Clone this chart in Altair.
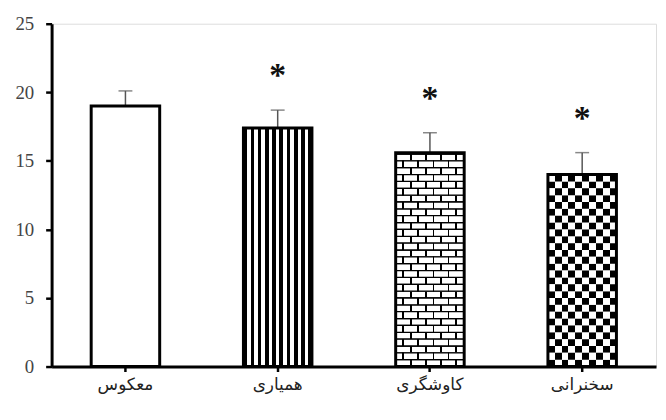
import altair as alt
import pandas as pd

categories = ["معکوس", "همیاری", "کاوشگری", "سخنرانی"]
means = [19.0, 17.4, 15.6, 14.0]
errors = [1.1, 1.3, 1.45, 1.6]
stars = ["", "*", "*", "*"]
patterns = ["none", "stripes", "bricks", "checks"]
y_ticks = [0, 5, 10, 15, 20, 25]

df = pd.DataFrame({"cat": categories, "mean": means, "err": errors, "star": stars, "pattern": patterns})
df["top"] = df["mean"] + df["err"]

# pattern rows (bricks and checkerboard) split into horizontal bands of 0.5 units
rows = []
for c, m, p in zip(categories, means, patterns):
    if p in ("bricks", "checks"):
        i = 0
        while i * 0.5 < m:
            rows.append({"cat": c, "y0": i * 0.5, "y1": min((i + 1) * 0.5, m),
                         "kind": f"{p}{i % 2}"})
            i += 1
rows_df = pd.DataFrame(rows)


def hstops(edges_colors):
    stops = []
    for off0, off1, col in edges_colors:
        stops.append({"offset": off0, "color": col})
        stops.append({"offset": off1, "color": col})
    return stops


def alt_segments(n, first):
    segs = []
    cols = [first, "white" if first == "black" else "black"]
    for k in range(n):
        segs.append((k / n, (k + 1) / n, cols[k % 2]))
    return segs


def line_segments(positions, w):
    segs = []
    prev = 0.0
    for p in positions:
        segs.append((prev, p - w / 2, "white"))
        segs.append((p - w / 2, p + w / 2, "black"))
        prev = p + w / 2
    segs.append((prev, 1.0, "white"))
    return segs


def grad(segs):
    return {"gradient": "linear", "x1": 0, "y1": 0, "x2": 1, "y2": 0, "stops": hstops(segs)}


stripes_grad = grad(alt_segments(19, "black"))
check0 = grad(alt_segments(10, "black"))
check1 = grad(alt_segments(10, "white"))
brick0 = grad(line_segments([0.22, 0.44, 0.66, 0.88], 0.025))
brick1 = grad(line_segments([0.11, 0.33, 0.55, 0.77], 0.025))

x_enc = alt.X("cat:N", sort=categories,
              scale=alt.Scale(domain=categories, paddingInner=0.55, paddingOuter=0.26),
              axis=alt.Axis(title=None, labelAngle=0, labelFont="DejaVu Sans", labelFontSize=17,
                            labelColor="#222", labelPadding=5, tickSize=5, tickWidth=2.5,
                            tickColor="black", domainColor="black", domainWidth=3, grid=False))
y_scale = alt.Scale(domain=[0, 25], nice=False)
y_enc = alt.Y("mean:Q", scale=y_scale,
              axis=alt.Axis(title=None, values=y_ticks, labelFont="Liberation Serif", labelFontSize=19,
                            labelColor="#444", labelPadding=12, tickSize=6, tickWidth=2.5,
                            tickColor="black", domainColor="black", domainWidth=3, grid=False))

base = alt.Chart(df)

white_bars = base.mark_bar(fill="white").encode(x=x_enc, y=y_enc)
stripes = base.transform_filter(alt.datum.pattern == "stripes").mark_bar(fill=stripes_grad).encode(x=x_enc, y=y_enc)

row_layers = []
for kind, g in [("bricks0", brick0), ("bricks1", brick1), ("checks0", check0), ("checks1", check1)]:
    stroke = {"stroke": "black", "strokeWidth": 1.3} if kind.startswith("bricks") else {}
    row_layers.append(
        alt.Chart(rows_df).transform_filter(alt.datum.kind == kind)
        .mark_bar(fill=g, **stroke)
        .encode(x=x_enc, y=alt.Y("y0:Q", scale=y_scale), y2="y1:Q")
    )

err_rule = base.mark_rule(color="#555", strokeWidth=1.5).encode(x=x_enc, y=y_enc, y2="top:Q")
err_cap = base.mark_tick(color="#555", thickness=1.5, size=14, orient="horizontal").encode(
    x=x_enc, y=alt.Y("top:Q", scale=y_scale))
outline = base.mark_bar(fillOpacity=0, stroke="black", strokeWidth=3).encode(x=x_enc, y=y_enc)
star_text = base.mark_text(text="*", fontSize=34, fontWeight="bold", font="Liberation Serif",
                           baseline="alphabetic", dy=-24, color="#111").encode(
    x=x_enc, y=alt.Y("top:Q", scale=y_scale), text="star:N")

chart = alt.layer(white_bars, stripes, *row_layers, err_rule, err_cap, outline, star_text).properties(
    width=610, height=346,
    autosize=alt.AutoSizeParams(type="none"),
    padding={"left": 44, "top": 14, "right": 2, "bottom": 44},
).configure_view(stroke=None).configure(background="white")

chart.save("out.html", embed_options={"renderer": "svg", "actions": False})
